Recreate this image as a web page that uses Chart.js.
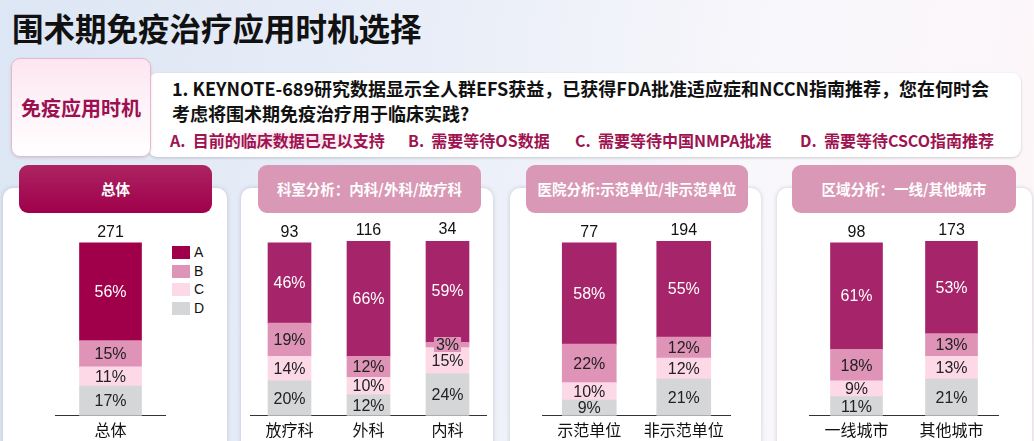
<!DOCTYPE html>
<html>
<head>
<meta charset="utf-8">
<script src="https://cdn.jsdelivr.net/npm/chart.js@4.4.0/dist/chart.umd.min.js"></script>
<style>
  body { margin:0; width:1034px; height:441px; overflow:hidden; position:relative;
    font-family:"Noto Sans CJK SC", sans-serif;
    background:linear-gradient(100deg,#dde6f4 0%,#e9eef8 40%,#f8f7fb 70%,#fdf6f9 100%); }
  .title { position:absolute; left:12px; top:4px; font-size:31.5px; font-weight:700; color:#111; }
  .qbox { position:absolute; left:148px; top:73px; width:873px; height:84px; background:#fff; border-radius:9px;
    box-shadow:0 1px 3px rgba(0,0,0,0.18); }
  .qtab { position:absolute; left:11px; top:58px; width:138px; height:97px; border:1px solid #e9b7cd; border-radius:9px;
    background:linear-gradient(#fde6f1,#ffffff); box-shadow:0 1px 3px rgba(0,0,0,0.12);
    color:#9c1050; font-weight:700; font-size:20px; text-align:center; line-height:97px; }
  .q { position:absolute; left:172px; font-size:18px; font-weight:700; color:#111; white-space:nowrap; }
  .opt { position:absolute; top:128px; font-size:16px; font-weight:700; color:#9e1350; white-space:nowrap; }
  .glow { position:absolute; left:180px; top:128px; width:215px; height:24px;
    background:radial-gradient(ellipse at center,rgba(240,190,212,0.6),rgba(255,255,255,0) 70%); }
  .panel { position:absolute; top:188px; height:270px; background:#fff; border-radius:10px;
    box-shadow:0 0 4px rgba(120,120,150,0.35); }
  .tab { position:absolute; top:165px; height:48px; border-radius:9px; color:#fff; font-weight:700; font-size:14.5px;
    text-align:center; line-height:48px; white-space:nowrap; }
  .tab.dark { background:linear-gradient(#ac2462,#a0004a); }
  .tab.light { background:#d998b5; }
  canvas { position:absolute; }
  .legend { position:absolute; left:172px; top:246px; font-family:"Liberation Sans", Arial, sans-serif; font-size:14px; color:#111; }
  .legend div { height:18.5px; position:relative; }
  .legend span.box { position:absolute; left:0; top:0; width:18px; height:13px; }
  .legend span.t { position:absolute; left:22px; top:-2px; }
</style>
</head>
<body>
<div class="title">围术期免疫治疗应用时机选择</div>
<div class="qbox"></div>
<div class="qtab">免疫应用时机</div>
<div class="q" style="top:75px">1. KEYNOTE-689研究数据显示全人群EFS获益，已获得FDA批准适应症和NCCN指南推荐，您在何时会</div>
<div class="q" style="top:100px">考虑将围术期免疫治疗用于临床实践?</div>
<div class="glow"></div>
<div class="opt" style="left:170px">A.&nbsp; 目前的临床数据已足以支持</div>
<div class="opt" style="left:408px">B.&nbsp; 需要等待OS数据</div>
<div class="opt" style="left:575px">C.&nbsp; 需要等待中国NMPA批准</div>
<div class="opt" style="left:800px">D.&nbsp; 需要等待CSCO指南推荐</div>

<div class="panel" style="left:3px;width:224px"></div>
<div class="panel" style="left:241px;width:252px"></div>
<div class="panel" style="left:510px;width:251px"></div>
<div class="panel" style="left:777px;width:255px"></div>

<div class="tab dark" style="left:19px;width:193px">总体</div>
<div class="tab light" style="left:258px;width:223px">科室分析：内科/外科/放疗科</div>
<div class="tab light" style="left:526px;width:222px">医院分析:示范单位/非示范单位</div>
<div class="tab light" style="left:792px;width:224px">区域分析：一线/其他城市</div>

<canvas id="c1" width="111" height="230" style="left:55px;top:215px"></canvas>
<canvas id="c2" width="237" height="230" style="left:250px;top:215px"></canvas>
<canvas id="c3" width="189" height="230" style="left:542px;top:215px"></canvas>
<canvas id="c4" width="190" height="230" style="left:809px;top:215px"></canvas>
<div class="legend" id="legend"></div>

<script>
var series = ['A', 'B', 'C', 'D'];
var colors = ['#a6256a', '#de93b7', '#fdd9e7', '#d5d6d8'];
var overallColorA = '#a0004a';

var overallCats = ['总体'];
var overallN = [271];
var overallA = [56], overallB = [15], overallC = [11], overallD = [17];

var deptCats = ['放疗科', '外科', '内科'];
var deptN = [93, 116, 34];
var deptA = [46, 66, 59], deptB = [19, 12, 3], deptC = [14, 10, 15], deptD = [20, 12, 24];

var hospCats = ['示范单位', '非示范单位'];
var hospN = [77, 194];
var hospA = [58, 55], hospB = [22, 12], hospC = [10, 12], hospD = [9, 21];

var cityCats = ['一线城市', '其他城市'];
var cityN = [98, 173];
var cityA = [61, 53], cityB = [18, 13], cityC = [9, 13], cityD = [11, 21];

var numFont = '"Liberation Sans", Arial, sans-serif';

function makeChart(id, cats, totals, a, b, c, d, colorA, barW) {
  var vals = [a, b, c, d];
  var cols = [colorA, colors[1], colors[2], colors[3]];
  var datasets = [];
  // bottom of stack first: D, C, B, A
  for (var k = 3; k >= 0; k--) {
    datasets.push({ label: series[k], data: vals[k], backgroundColor: cols[k], barThickness: barW, borderWidth: 0 });
  }

  var labelPlugin = {
    id: 'segLabels',
    afterDatasetsDraw: function(chart) {
      var ctx = chart.ctx;
      ctx.save();
      ctx.font = '16px ' + numFont;
      ctx.textAlign = 'center';
      ctx.textBaseline = 'middle';
      chart.data.datasets.forEach(function(ds, di) {
        var meta = chart.getDatasetMeta(di);
        meta.data.forEach(function(bar, i) {
          var y = (bar.y + bar.base) / 2;
          var h = bar.base - bar.y;
          var txt = ds.data[i] + '%';
          if (h < 10) {
            var w = ctx.measureText(txt).width + 4;
            ctx.fillStyle = ds.backgroundColor;
            ctx.fillRect(bar.x - w / 2, y - 8, w, 15);
          }
          ctx.fillStyle = ds.label === 'A' ? '#fff' : '#222';
          ctx.fillText(txt, bar.x, y + 1);
        });
      });
      var topMeta = chart.getDatasetMeta(chart.data.datasets.length - 1);
      ctx.fillStyle = '#111';
      topMeta.data.forEach(function(bar, i) {
        ctx.fillText(totals[i], bar.x, bar.y - 10);
      });
      ctx.restore();
    }
  };

  return new Chart(document.getElementById(id), {
    type: 'bar',
    data: { labels: cats, datasets: datasets },
    options: {
      responsive: false,
      animation: false,
      layout: { padding: { top: 26, left: 0, right: 0, bottom: 0 } },
      plugins: { legend: { display: false }, tooltip: { enabled: false } },
      scales: {
        x: {
          stacked: true,
          grid: { display: false, drawTicks: false },
          border: { display: true, color: '#333', width: 1 },
          ticks: { color: '#111', padding: 5, font: { size: 16, family: '"Noto Sans CJK SC", sans-serif' } }
        },
        y: { stacked: true, display: false, min: 0, max: 100 }
      }
    },
    plugins: [labelPlugin]
  });
}

makeChart('c1', overallCats, overallN, overallA, overallB, overallC, overallD, overallColorA, 62);
makeChart('c2', deptCats, deptN, deptA, deptB, deptC, deptD, colors[0], 43);
makeChart('c3', hospCats, hospN, hospA, hospB, hospC, hospD, colors[0], 54);
makeChart('c4', cityCats, cityN, cityA, cityB, cityC, cityD, colors[0], 52);

// legend for the overall panel
var legendCols = [overallColorA, colors[1], colors[2], colors[3]];
var lg = document.getElementById('legend');
series.forEach(function(s, i) {
  var row = document.createElement('div');
  row.innerHTML = '<span class="box" style="background:' + legendCols[i] + '"></span><span class="t">' + s + '</span>';
  lg.appendChild(row);
});
</script>
</body>
</html>
